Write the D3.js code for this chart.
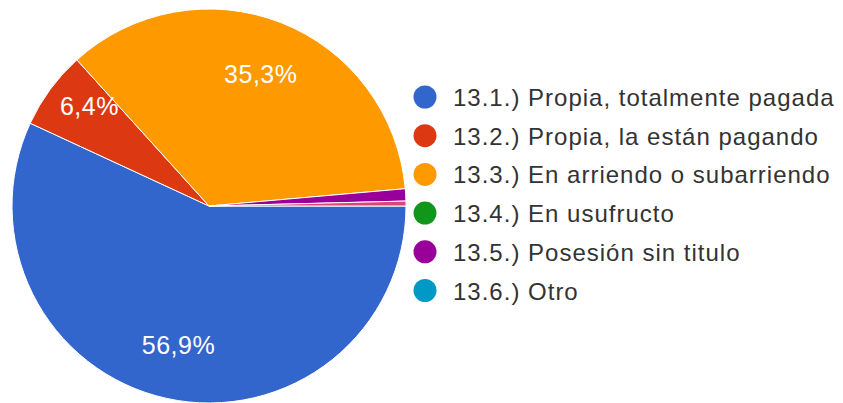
<!DOCTYPE html>
<html>
<head>
<meta charset="utf-8">
<script src="https://cdn.jsdelivr.net/npm/d3@7"></script>
<style>
  html, body { margin: 0; padding: 0; background: #fff; }
  svg { display: block; font-family: "Liberation Sans", Arial, sans-serif; }
</style>
</head>
<body>
<div id="chart"></div>
<script>
// categories in drawing order (the last one has no legend entry in the original)
let categories = [
  "13.1.) Propia, totalmente pagada",
  "13.2.) Propia, la están pagando",
  "13.3.) En arriendo o subarriendo",
  "13.4.) En usufructo",
  "13.5.) Posesión sin titulo",
  "13.6.) Otro",
  ""
];
let values = [56.9, 6.4, 35.3, 0, 1.0, 0, 0.4];
let colors = ["#3366cc", "#dc3912", "#ff9900", "#109618", "#990099", "#0099c6", "#dd4477"];
let legendCount = 6;

let width = 843,
  height = 403,
  cx = 209,
  cy = 206,
  radius = 197;

let svg = d3.select("#chart").append("svg").attr("width", width).attr("height", height);

let data = categories.map(function(c, i) {
  return { label: c, value: values[i], color: colors[i] };
});

let pie = d3.pie()
  .sort(null)
  .value(function(d) { return d.value; })
  .startAngle(Math.PI / 2)
  .endAngle(Math.PI / 2 + 2 * Math.PI);

let arcs = pie(data);

let arc = d3.arc().innerRadius(0).outerRadius(radius);

let g = svg.append("g").attr("transform", "translate(" + cx + "," + cy + ")");

g.selectAll("path")
  .data(arcs.filter(function(d) { return d.data.value > 0; }))
  .enter().append("path")
  .attr("d", arc)
  .attr("fill", function(d) { return d.data.color; })
  .attr("stroke", "#fff")
  .attr("stroke-width", 1);

// percentage labels, only for slices big enough to hold them
let fmt = function(v) { return d3.format(".1f")(v).replace(".", ",") + "%"; };

g.selectAll("text.pct")
  .data(arcs.filter(function(d) { return d.data.value >= 5; }))
  .enter().append("text")
  .attr("class", "pct")
  .attr("transform", function(d) {
    let share = (d.endAngle - d.startAngle) / (2 * Math.PI);
    let r = share < 0.1 ? radius * 0.79 : radius * 0.72;
    // small slices: nudge the label toward the wider side, like the original
    let a = (d.startAngle + d.endAngle) / 2 + (share < 0.1 ? 0.06 : 0);
    return "translate(" + (Math.sin(a) * r) + "," + (-Math.cos(a) * r) + ")";
  })
  .attr("dy", 9)
  .attr("text-anchor", "middle")
  .attr("fill", "#fff")
  .style("font-size", "25px")
  .style("letter-spacing", "0.5px")
  .text(function(d) { return fmt(d.data.value); });

// legend
let legend = svg.append("g").attr("transform", "translate(425,97)");

let rows = legend.selectAll("g")
  .data(data.slice(0, legendCount))
  .enter().append("g")
  .attr("transform", function(d, i) { return "translate(0," + (i * 38.7) + ")"; });

rows.append("circle")
  .attr("r", 11.5)
  .attr("fill", function(d) { return d.color; });

rows.append("text")
  .attr("x", 28)
  .attr("y", 9)
  .attr("fill", "#333")
  .style("font-size", "24px")
  .style("letter-spacing", "1px")
  .text(function(d) { return d.label; });
</script>
</body>
</html>
